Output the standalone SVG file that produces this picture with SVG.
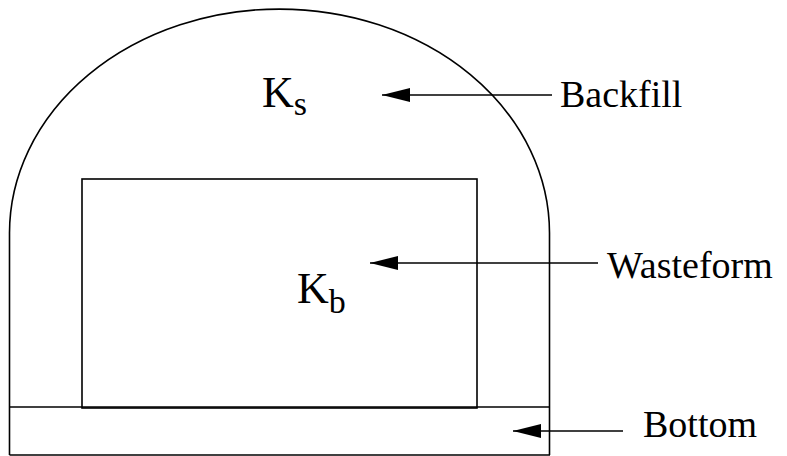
<svg xmlns="http://www.w3.org/2000/svg" width="787" height="456" viewBox="0 0 787 456">
<style>
.o{fill:none;stroke:#000;stroke-width:1.6}
.c{fill:none;stroke:#000;stroke-width:1.6}
text{font-family:"Liberation Serif","Times New Roman",serif;fill:#000}
.t{font-size:38px}
.k{font-size:44px}
.s{font-size:34px}
</style>
<defs>
<marker id="ah" markerUnits="userSpaceOnUse" viewBox="0 -7 28 14" refX="28" refY="0" markerWidth="28" markerHeight="14" orient="auto">
<path d="M0,-7 L28,0 L0,7 Z" fill="#000"/>
</marker>
</defs>
<rect x="0" y="0" width="787" height="456" fill="#fff"/>
<g id="backfill">
<path class="o" d="M9.5,455 L9.5,233 A270 224 0 0 1 549.5,233 L549.5,455"/>
<text class="k" x="262" y="107">K<tspan class="s" dy="8">s</tspan></text>
</g>
<g id="wasteform">
<rect class="o" x="82" y="179" width="395" height="229"/>
<text class="k" x="297" y="303">K<tspan class="s" dy="10">b</tspan></text>
</g>
<g id="bottom">
<line class="o" x1="9.5" y1="407" x2="550" y2="407"/>
<line class="o" x1="9.5" y1="455" x2="550" y2="455"/>
</g>
<g id="labels">
<text class="t" x="560" y="107">Backfill</text>
<text class="t" x="607" y="278">Wasteform</text>
<text class="t" x="643" y="437">Bottom</text>
</g>
<g id="connectors">
<line class="c" x1="552" y1="95" x2="382" y2="95" marker-end="url(#ah)"/>
<line class="c" x1="598" y1="263" x2="370" y2="263" marker-end="url(#ah)"/>
<line class="c" x1="623" y1="431" x2="513" y2="431" marker-end="url(#ah)"/>
</g>
</svg>
